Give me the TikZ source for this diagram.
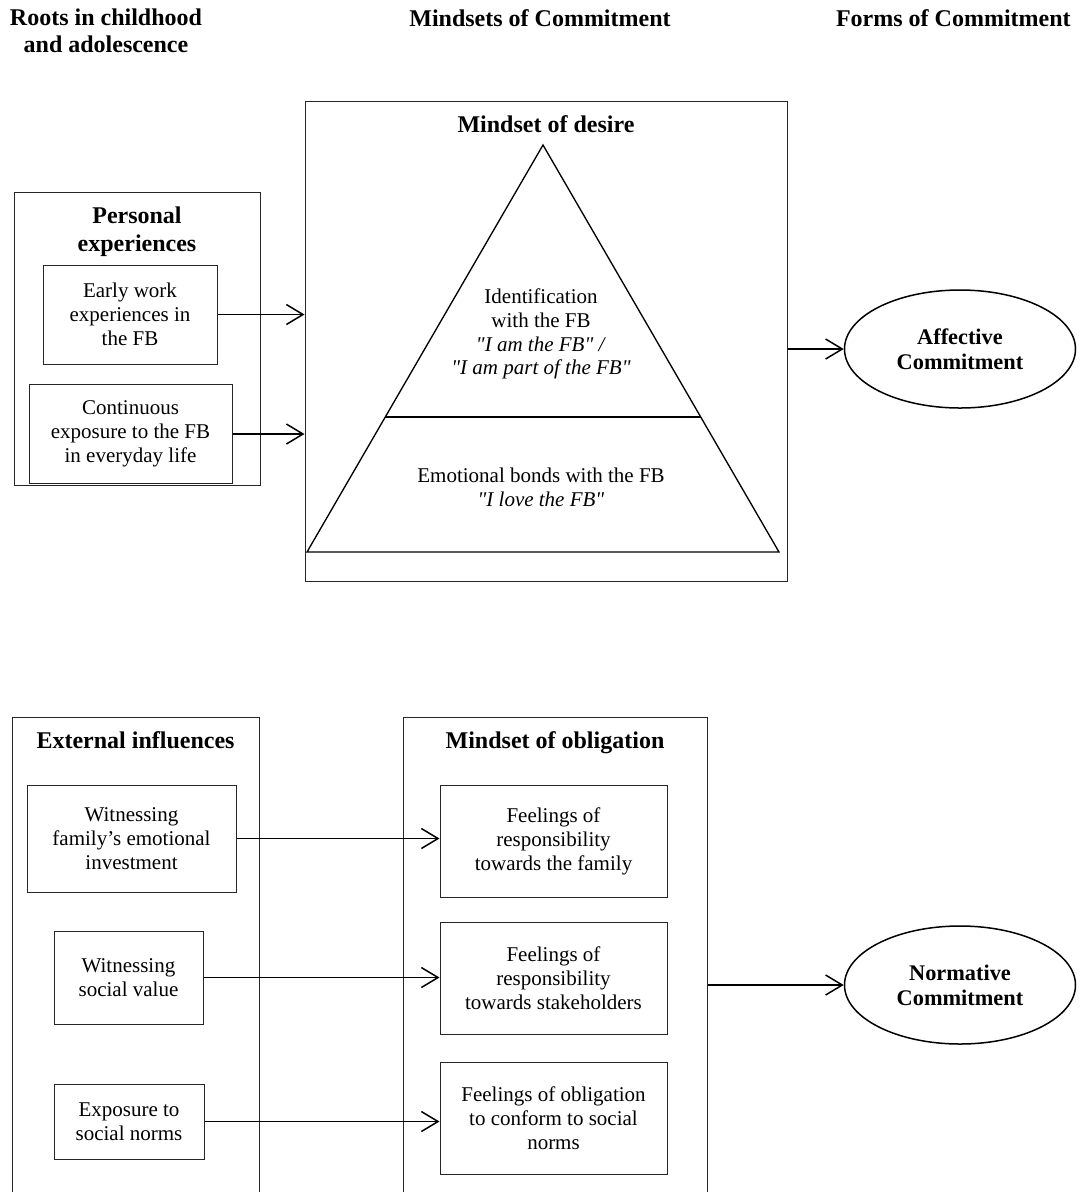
\documentclass[tikz,border=0pt]{standalone}
\usepackage{fontspec}
\setmainfont{Liberation Serif}[Ligatures=TeXOff]
\usetikzlibrary{arrows.meta,positioning,calc,shapes.geometric}

\tikzset{
  frame/.style={draw=black!85, line width=0.6pt, inner sep=0pt},
  itembox/.style={draw=black!85, line width=0.6pt, align=center, inner sep=0pt,
    font=\fontsize{12.6}{14.4}\selectfont},
  headtext/.style={align=center, inner sep=0pt, font=\fontsize{14.4}{16.2}\selectfont\bfseries},
  boxtitle/.style={align=center, inner sep=0pt, font=\fontsize{14.4}{16.8}\selectfont\bfseries},
  bodytext/.style={align=center, inner sep=0pt, font=\fontsize{12.6}{14.2}\selectfont},
  outcome/.style={ellipse, draw, line width=0.9pt, minimum width=138.6pt,
    minimum height=70.8pt, align=center, inner sep=0pt,
    font=\fontsize{13.4}{15}\selectfont\bfseries},
  flow/.style={-{Straight Barb[length=10pt,width=12pt]}, line width=0.9pt}
}

\begin{document}
\begin{tikzpicture}[x=0.6pt, y=-0.6pt]
    \path[use as bounding box, fill=white] (0,0) rectangle (1081,1192);
    \clip (0,0) rectangle (1081,1192);

    \node[headtext] (hroots) at (106,31) {Roots in childhood\\and adolescence};
    \node[headtext] (hmind) at (540,18) {Mindsets of Commitment};
    \node[headtext, anchor=east] (hforms) at (1071,18) {Forms of Commitment};

    \node[frame, minimum width=246*0.6pt, minimum height=293*0.6pt] (pers) at (137,338.5) {};
    \node[boxtitle, below=9pt of pers.north] (perstitle) {Personal\\experiences};
    \node[itembox, minimum width=174*0.6pt, minimum height=99*0.6pt] (early) at (130,314.5)
      {Early work\\experiences in\\the FB};
    \node[itembox, minimum width=203*0.6pt, minimum height=99*0.6pt] (cont) at (130.5,434)
      {Continuous\\exposure to the FB\\in everyday life};

    \node[frame, minimum width=482*0.6pt, minimum height=480*0.6pt] (desire) at (546,341) {};
    \node[boxtitle, below=9pt of desire.north] (desiretitle) {Mindset of desire};
    \coordinate (apex) at (543,145);
    \coordinate (baseL) at (307,552);
    \coordinate (baseR) at (779,552);
    \draw[line width=0.8pt] (apex) -- (baseL) -- (baseR) -- cycle;
    \draw[line width=0.8pt] ($(apex)!0.6683!(baseL)$) -- ($(apex)!0.6683!(baseR)$);
    \node[bodytext] (ident) at (541,334)
      {Identification\\with the FB\\\textit{"I am the FB" /}\\\textit{"I am part of the FB"}};
    \node[bodytext] (bonds) at (541,487) {Emotional bonds with the FB\\\textit{"I love the FB"}};

    \node[outcome] (affective) at (960,349) {Affective\\Commitment};

    \node[frame, minimum width=247*0.6pt, minimum height=493*0.6pt] (extern) at (135.5,963.5) {};
    \node[boxtitle, below=9pt of extern.north] (externtitle) {External influences};
    \node[itembox, minimum width=209*0.6pt, minimum height=107*0.6pt] (family) at (131.5,838.5)
      {Witnessing\\family’s emotional\\investment};
    \node[itembox, minimum width=149*0.6pt, minimum height=93*0.6pt] (social) at (128.5,977.5)
      {Witnessing\\social value};
    \node[itembox, minimum width=150*0.6pt, minimum height=75*0.6pt] (norms) at (129,1121.5)
      {Exposure to\\social norms};

    \node[frame, minimum width=304*0.6pt, minimum height=493*0.6pt] (oblig) at (555,963.5) {};
    \node[boxtitle, below=9pt of oblig.north] (obligtitle) {Mindset of obligation};
    \node[itembox, minimum width=227*0.6pt, minimum height=112*0.6pt] (respfam) at (553.5,841)
      {Feelings of\\responsibility\\towards the family};
    \node[itembox, minimum width=227*0.6pt, minimum height=112*0.6pt] (respstake) at (553.5,978)
      {Feelings of\\responsibility\\towards stakeholders};
    \node[itembox, minimum width=227*0.6pt, minimum height=112*0.6pt] (conform) at (553.5,1118)
      {Feelings of obligation\\to conform to social\\norms};

    \node[outcome] (normative) at (960,985) {Normative\\Commitment};

    \draw[flow] (early.east) -- (early.east -| desire.west);
    \draw[flow] (cont.east) -- (cont.east -| desire.west);
    \draw[flow] (desire.east |- affective.west) -- (affective.west);
    \draw[flow] (family.east) -- (family.east -| respfam.west);
    \draw[flow] (social.east) -- (social.east -| respstake.west);
    \draw[flow] (norms.east) -- (norms.east -| conform.west);
    \draw[flow] (oblig.east |- normative.west) -- (normative.west);
  \end{tikzpicture}
\end{document}
